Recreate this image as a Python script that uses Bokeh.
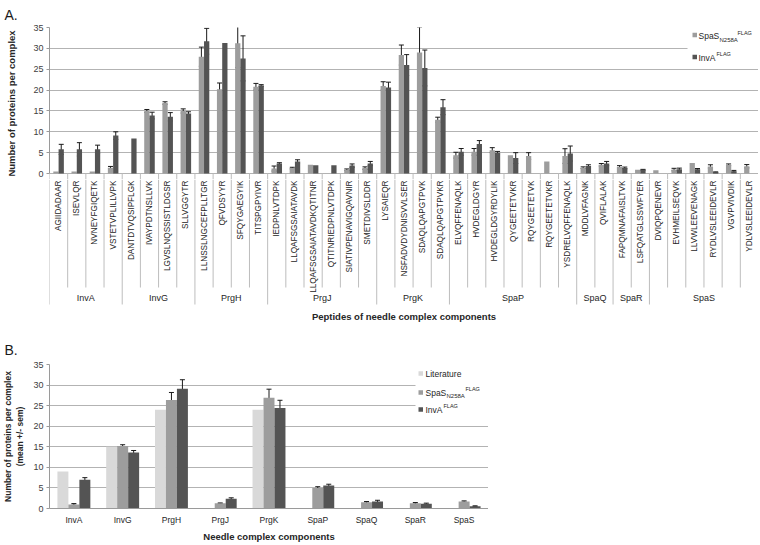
import math
from bokeh.plotting import figure
from bokeh.models import (FactorRange, Range1d, ColumnDataSource, Whisker, TeeHead,
                          SingleIntervalTicker, Label, BoxAnnotation, Title)
from bokeh.transform import dodge
from bokeh.layouts import column
from bokeh.embed import file_html
from bokeh.resources import INLINE
from bokeh.core.properties import value

FONT = "Liberation Sans"
C_LIT = "#d9d9d9"
C_SPAS = "#9d9d9d"
C_INVA = "#545454"
GRID = "#b3b3b3"
TXT = "#262626"

# ---------------- data: panel A ----------------
components = ["InvA", "InvG", "PrgH", "PrgJ", "PrgK", "SpaP", "SpaQ", "SpaR", "SpaS"]
peptide_counts = [4, 4, 4, 6, 4, 7, 2, 2, 6]
peptides = [
    "AGIIDADAAR", "ISEVLQR", "NVNEYFGIQETK", "VSTETVPLILLVPK",
    "DANTDTVQSIPFLGK", "IVAYPDTNSLLVK", "LGVSLNQSSISTLDGSR", "SLLVGGYTR",
    "LLNSSLNGCEFPLLTGR", "QFVDSYYR", "SFQYGAEGYIK", "TITSPGPYIVR",
    "IEDPNLVTDPK", "LLQAFSGSAIATAVDK", "LLQAFSGSAIATAVDKQTITNR", "QTITNRIEDPNLVTDPK",
    "SIATIVPENAVIGQAVNIR", "SMETDIVSLDDR",
    "LYSAIEQR", "NSFADVDYDNISVVLSER", "SDAQLQAPGTPVK", "SDAQLQAPGTPVKR",
    "ELVQFFENAQLK", "HVDEGLDGYR", "HVDEGLDGYRDYLIK", "QYGEETETVKR", "RQYGEETETVK",
    "RQYGEETETVKR", "YSDRELVQFFENAQLK",
    "MDDLVFAGNK", "QVIFLALAK",
    "FAPQMNAFAISLTVK", "LSFQATGLSSWFYER",
    "DVIQPQENEVR", "EVHMEILSEQVK", "LLVWLEEVENAGK", "RYDLVSLEEIDEVLR", "VGVPVIVDIK",
    "YDLVSLEEIDEVLR",
]
spas_pep = [0.5, 0.5, 0.5, 1.4, 0.0, 15.0, 16.9, 15.0, 28.0, 20.2, 31.2, 20.8,
            1.2, 1.3, 2.1, 0.0, 0.9, 1.3, 21.0, 28.4, 29.0, 12.9,
            4.4, 5.2, 5.6, 4.4, 4.2, 2.9, 4.2, 1.4, 2.1, 1.6, 0.9,
            0.8, 0.95, 2.5, 1.7, 2.1, 1.75]
spas_pep_err = [0, 0, 0, 0.3, 0, 0.35, 0.3, 0.5, 2.3, 1.5, 5.8, 0.8,
                0.6, 0.2, 0, 0, 0.2, 0.3, 1.0, 2.4, 6.1, 0.6,
                0.7, 0.8, 0.6, 0, 0.8, 0, 1.75, 0.2, 0.3, 0.3, 0,
                0, 0.3, 0, 0.4, 0.2, 0.4]
inva_pep = [5.8, 5.8, 5.8, 9.1, 8.4, 13.9, 13.6, 14.4, 31.7, 31.3, 27.6, 21.1,
            2.4, 2.9, 2.0, 2.0, 1.9, 2.4, 20.6, 26.0, 25.3, 15.9,
            5.2, 7.1, 5.0, 3.7, 0.0, 0.0, 4.8, 1.8, 2.4, 1.35, 0.9,
            0.0, 1.0, 1.0, 0.3, 0.55, 0.0]
inva_pep_err = [1.2, 1.6, 1.0, 0.9, 0, 0.8, 1.0, 0.4, 3.1, 0, 5.4, 0.2,
                0.2, 0.4, 0, 0, 0.4, 0.5, 1.3, 2.5, 4.3, 1.8,
                0.8, 0.8, 0.3, 1.3, 0, 0, 1.8, 0.3, 0.5, 0.2, 0.1,
                0, 0.3, 0.2, 0.1, 0.2, 0]

# ---------------- data: panel B ----------------
literature = [9, 15, 24, 0, 24, 0, 0, 0, 0]
spas_comp = [1.0, 15.2, 26.4, 1.25, 26.9, 5.0, 1.5, 1.25, 1.7]
spas_comp_err = [0.2, 0.3, 1.8, 0.1, 2.1, 0.3, 0.2, 0.2, 0.15]
inva_comp = [7.0, 13.6, 29.1, 2.4, 24.4, 5.6, 1.7, 1.15, 0.55]
inva_comp_err = [0.5, 0.5, 2.2, 0.2, 1.9, 0.3, 0.3, 0.15, 0.1]

PX_A = 1 / 4.2  # data units per pixel in panel A


def style_yaxis(p, label, label_size, standoff):
    ax = p.yaxis[0]
    ax.ticker = SingleIntervalTicker(interval=5, num_minor_ticks=0)
    ax.bounds = (0, 35)
    ax.axis_label = label
    ax.axis_label_text_font = FONT
    ax.axis_label_text_font_size = label_size
    ax.axis_label_text_font_style = "bold"
    ax.axis_label_text_color = TXT
    ax.axis_label_standoff = standoff
    ax.major_label_text_font = FONT
    ax.major_label_text_font_size = "9px"
    ax.major_label_text_color = "#404040"
    ax.major_label_standoff = 3
    ax.major_tick_out = 3
    ax.major_tick_in = 0
    ax.minor_tick_out = 0
    ax.minor_tick_in = 0
    ax.axis_line_color = "#9a9a9a"
    ax.major_tick_line_color = "#9a9a9a"
    p.ygrid.grid_line_color = GRID
    p.xgrid.visible = False
    p.outline_line_color = None


def style_title(p, text, standoff):
    p.title.text = text
    p.title.text_font = FONT
    p.title.text_font_size = "14px"
    p.title.text_font_style = "normal"
    p.title.text_color = "#1a1a1a"
    p.title.align = "left"
    p.title.offset = -45
    p.title.standoff = standoff


def whisker(p, src, base, xr):
    w = Whisker(source=src, base=dodge("x", base, range=xr), upper="hi", lower="lo",
                line_color="#1a1a1a", line_width=1,
                upper_head=TeeHead(size=5, line_color="#1a1a1a", line_width=1),
                lower_head=TeeHead(size=5, line_color="#1a1a1a", line_width=1))
    p.add_layout(w)


def err_source(xs, vals, errs):
    keep = [i for i, e in enumerate(errs) if e > 0]
    return ColumnDataSource(dict(
        x=[xs[i] for i in keep],
        hi=[vals[i] + errs[i] for i in keep],
        lo=[vals[i] - errs[i] for i in keep]))


def label(p, text, x, y, size, color=TXT):
    p.add_layout(Label(x=x, y=y, x_units="screen", y_units="screen", text=text,
                       text_font=FONT, text_font_size=size, text_color=color,
                       text_baseline="middle", text_align="left"))


def box(p, left, right, bottom, top, color):
    p.add_layout(BoxAnnotation(left=left, right=right, bottom=bottom, top=top,
                               left_units="screen", right_units="screen",
                               top_units="screen", bottom_units="screen",
                               fill_color=color, fill_alpha=1, line_color=None))


def square(p, x, y, color, s=4.5):
    box(p, x, x + s, y - s / 2, y + s / 2, color)


# ================= Panel A (bars) =================
xr = FactorRange(factors=peptides, range_padding=0)
p1 = figure(width=758, height=179, x_range=xr, y_range=Range1d(-6 * PX_A, 35),
            output_backend="svg", toolbar_location=None, x_axis_location=None,
            min_border_left=48, min_border_right=0, min_border_top=26, min_border_bottom=0)
style_title(p1, "A.", 9)
style_yaxis(p1, "Number of proteins per complex", "9.5px", 13)

srcA = ColumnDataSource(dict(x=peptides, spas=spas_pep, inva=inva_pep))
p1.vbar(x=dodge("x", -0.145, range=xr), top="spas", width=0.29, source=srcA,
        fill_color=C_SPAS, line_color=None)
p1.vbar(x=dodge("x", 0.145, range=xr), top="inva", width=0.29, source=srcA,
        fill_color=C_INVA, line_color=None)
whisker(p1, err_source(peptides, spas_pep, spas_pep_err), -0.145, xr)
whisker(p1, err_source(peptides, inva_pep, inva_pep_err), 0.145, xr)

# category dividers (top part, between the axis and the label panel)
bx, blen = [], []
start = 0
for n in peptide_counts:
    for k in range(n):
        bx.append((peptides[start + k], -0.5))
        blen.append(-131 if k == 0 else -114)
    start += n
bx.append((peptides[-1], 0.5))
blen.append(-131)
p1.segment(x0=bx, x1=bx, y0=0, y1=-6 * PX_A, line_color="#bdbdbd", line_width=1)

# legend A (screen units relative to the frame)
box(p1, 638, 710, 115, 150, "white")
square(p1, 643, 144.5, C_SPAS)
label(p1, "SpaS", 649, 143.5, "8.5px")
label(p1, "N258A", 670, 139.5, "6px")
label(p1, "FLAG", 688, 147.0, "5.5px")
square(p1, 643, 122.5, C_INVA)
label(p1, "InvA", 649, 122.0, "8.5px")
label(p1, "FLAG", 667, 125.5, "5.5px")

# ================= Panel A (category labels) =================
p2 = figure(width=758, height=146, x_range=xr, y_range=Range1d(-132, -6),
            output_backend="svg", toolbar_location=None,
            x_axis_location=None, y_axis_location=None,
            min_border_left=48, min_border_right=0, min_border_top=0, min_border_bottom=20)
p2.grid.visible = False
p2.outline_line_color = None

p2.text(x=peptides, y=-7, text=peptides, angle=math.pi / 2, text_align="right",
        text_baseline="middle", text_font=value(FONT), text_font_size="8.2px",
        text_color=TXT)
p2.segment(x0=bx, x1=bx, y0=-6, y1=blen, line_color="#bdbdbd", line_width=1)

gx = []
start = 0
for n in peptide_counts:
    gx.append((peptides[start], (n - 1) / 2))
    start += n
p2.text(x=gx, y=-124, text=components, text_align="center", text_baseline="middle",
        text_font=value(FONT), text_font_size="9px", text_color=TXT)

p2.add_layout(Title(text="Peptides of needle complex components", align="center",
                    text_font=FONT, text_font_size="9.5px", text_font_style="bold",
                    text_color=TXT, standoff=6), "below")

# ================= Panel B =================
xr3 = FactorRange(factors=components, range_padding=0)
p3 = figure(width=488, height=219, x_range=xr3, y_range=Range1d(0, 35),
            output_backend="svg", toolbar_location=None,
            min_border_left=48, min_border_right=0, min_border_top=39, min_border_bottom=32)
style_title(p3, "B.", 14)
style_yaxis(p3, "Number of proteins per complex\n(mean +/- sem)", "8.5px", 5)
xa = p3.xaxis[0]
xa.axis_label = "Needle complex components"
xa.axis_label_text_font = FONT
xa.axis_label_text_font_size = "9.5px"
xa.axis_label_text_font_style = "bold"
xa.axis_label_text_color = TXT
xa.axis_label_standoff = 3
xa.major_label_text_font = FONT
xa.major_label_text_font_size = "8.5px"
xa.major_label_text_color = TXT
xa.major_label_standoff = 6
xa.major_tick_line_color = None
xa.major_tick_out = 0
xa.axis_line_color = "#9a9a9a"

srcB = ColumnDataSource(dict(x=components, lit=literature, spas=spas_comp, inva=inva_comp))
p3.vbar(x=dodge("x", -0.225, range=xr3), top="lit", width=0.225, source=srcB,
        fill_color=C_LIT, line_color=None)
p3.vbar(x=dodge("x", 0.0, range=xr3), top="spas", width=0.225, source=srcB,
        fill_color=C_SPAS, line_color=None)
p3.vbar(x=dodge("x", 0.225, range=xr3), top="inva", width=0.225, source=srcB,
        fill_color=C_INVA, line_color=None)
whisker(p3, err_source(components, spas_comp, spas_comp_err), 0.0, xr3)
whisker(p3, err_source(components, inva_comp, inva_comp_err), 0.225, xr3)

# legend B
box(p3, 366, 440, 94, 145, "white")
square(p3, 369, 135, C_LIT)
label(p3, "Literature", 376, 135, "8.5px")
square(p3, 369, 116, C_SPAS)
label(p3, "SpaS", 376, 116, "8.5px")
label(p3, "N258A", 397, 112.5, "6px")
label(p3, "FLAG", 416, 119.5, "5.5px")
square(p3, 369, 99, C_INVA)
label(p3, "InvA", 376, 99, "8.5px")
label(p3, "FLAG", 394, 102.5, "5.5px")

layout = column(p1, p2, p3, spacing=0)
open("out.html", "w").write(file_html(layout, INLINE))
